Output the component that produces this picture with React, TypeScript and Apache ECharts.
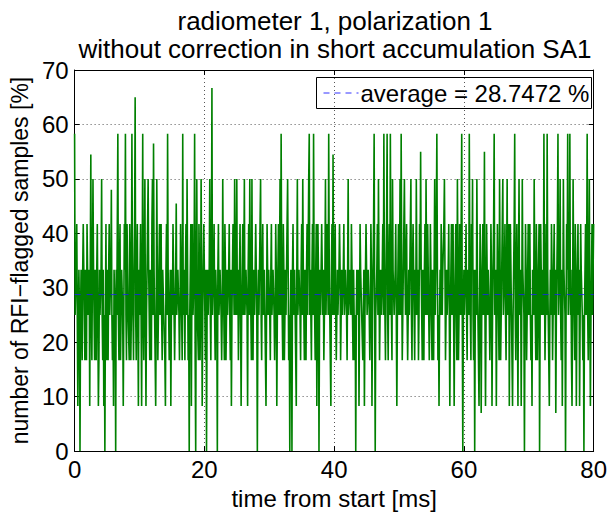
import React, { useEffect, useRef } from "react";
import * as echarts from "echarts";

const titleLines = ["radiometer 1, polarization 1", "without correction in short accumulation SA1"];
const xAxisName = "time from start [ms]";
const yAxisName = "number of RFI\u2212flagged samples [%]";
const averageValue = 28.7472;
const averageLabel = "average = 28.7472 %";
const sampleStepMs = 1 / 12;

// RFI-flagged percentage per sample: 0-10 ms, 10-20 ms, ... 70-80 ms
const seg0 = [
  58.3, 25, 25, 33.3, 41.7, 25, 8.3, 25, 33.3, 25, 0, 25, 33.3, 25, 16.7, 33.3, 41.7, 33.3, 25, 16.7,
  33.3, 25, 16.7, 41.7, 41.7, 25, 25, 33.3, 8.3, 33.3, 54.5, 25, 16.7, 33.3, 50, 33.3, 25, 16.7, 33.3, 25,
  16.7, 33.3, 41.7, 25, 8.3, 16.7, 33.3, 25, 25, 33.3, 50, 25, 16.7, 33.3, 8.3, 25, 0, 25, 41.7, 16.7,
  33.3, 25, 16.7, 33.3, 41.7, 25, 25, 33.3, 48, 25, 16.7, 25, 8.3, 33.3, 33.3, 25, 0, 33.3, 25, 41.7,
  58.3, 25, 16.7, 33.3, 41.7, 16.7, 25, 33.3, 33.3, 25, 8.3, 25, 41.7, 33.3, 58.3, 25, 16.7, 41.7, 33.3, 25,
  25, 16.7, 41.7, 33.3, 16.7, 25, 58.3, 33.3, 25, 16.7, 33.3, 41.7, 65, 25, 16.7, 33.3, 41.7, 25, 8.3, 33.3,
];
const seg1 = [
  25, 33.3, 41.7, 25, 8.3, 33.3, 58.3, 25, 16.7, 33.3, 50, 25, 8.3, 25, 33.3, 41.7, 50, 33.3, 25, 16.7,
  33.3, 25, 16.7, 41.7, 50, 25, 56.5, 33.3, 25, 16.7, 8.3, 25, 50, 33.3, 16.7, 25, 33.3, 41.7, 25, 33.3,
  41.7, 25, 16.7, 33.3, 33.3, 25, 25, 16.7, 8.3, 33.3, 41.7, 25, 58.3, 33.3, 25, 16.7, 16.7, 33.3, 8.3, 25,
  33.3, 25, 41.7, 33.3, 25, 16.7, 16.7, 33.3, 45.5, 25, 25, 33.3, 33.3, 25, 16.7, 25, 41.7, 33.3, 25, 16.7,
  58.3, 25, 33.3, 25, 16.7, 33.3, 41.7, 25, 50, 33.3, 16.7, 25, 0, 25, 33.3, 41.7, 8.3, 33.3, 41.7, 25,
  25, 33.3, 58.3, 16.7, 0, 33.3, 50, 25, 25, 16.7, 41.7, 33.3, 16.7, 25, 50, 33.3, 8.3, 25, 33.3, 41.7,
];
const seg2 = [
  41.7, 25, 16.7, 33.3, 0, 25, 33.3, 25, 25, 33.3, 50, 25, 16.7, 33.3, 66.7, 25, 25, 33.3, 41.7, 25,
  16.7, 33.3, 33.3, 25, 0, 33.3, 41.7, 25, 25, 33.3, 33.3, 25, 16.7, 25, 50, 33.3, 25, 16.7, 41.7, 33.3,
  16.7, 25, 33.3, 25, 25, 33.3, 41.7, 25, 16.7, 33.3, 8.3, 25, 33.3, 41.7, 41.7, 25, 50, 33.3, 25, 33.3,
  50, 25, 33.3, 16.7, 16.7, 33.3, 41.7, 25, 8.3, 25, 33.3, 41.7, 25, 33.3, 50, 25, 25, 33.3, 33.3, 25,
  8.3, 33.3, 41.7, 25, 50, 33.3, 25, 16.7, 50, 25, 16.7, 33.3, 33.3, 25, 25, 41.7, 41.7, 25, 0, 25,
  33.3, 25, 25, 41.7, 50, 25, 16.7, 33.3, 41.7, 25, 25, 33.3, 33.3, 16.7, 8.3, 25, 41.7, 33.3, 25, 33.3,
];
const seg3 = [
  33.3, 25, 16.7, 33.3, 41.7, 25, 25, 33.3, 33.3, 25, 16.7, 25, 41.7, 33.3, 8.3, 25, 33.3, 41.7, 25, 33.3,
  50, 25, 58.3, 33.3, 25, 16.7, 41.7, 33.3, 16.7, 25, 33.3, 25, 25, 41.7, 50, 33.3, 16.7, 25, 0, 25,
  33.3, 25, 0, 33.3, 41.7, 25, 25, 33.3, 33.3, 16.7, 8.3, 33.3, 50, 25, 25, 33.3, 33.3, 25, 16.7, 33.3,
  41.7, 25, 50, 33.3, 25, 16.7, 33.3, 25, 16.7, 33.3, 41.7, 25, 25, 50, 58.3, 25, 33.3, 25, 16.7, 33.3,
  41.7, 25, 58.3, 33.3, 25, 16.7, 33.3, 41.7, 8.3, 25, 41.7, 33.3, 0, 25, 33.3, 25, 25, 41.7, 41.7, 25,
  33.3, 16.7, 25, 33.3, 50, 25, 33.3, 41.7, 41.7, 25, 58.3, 33.3, 25, 16.7, 8.3, 33.3, 41.7, 25, 54.5, 33.3,
];
const seg4 = [
  25, 33.3, 41.7, 25, 16.7, 25, 33.3, 25, 25, 33.3, 41.7, 33.3, 16.7, 25, 33.3, 25, 25, 33.3, 41.7, 25,
  25, 33.3, 33.3, 25, 16.7, 33.3, 50, 25, 25, 33.3, 33.3, 25, 41.7, 33.3, 25, 16.7, 33.3, 25, 16.7, 25,
  0, 25, 33.3, 25, 25, 33.3, 8.3, 25, 41.7, 33.3, 33.3, 25, 25, 16.7, 16.7, 33.3, 8.3, 25, 33.3, 41.7,
  41.7, 25, 25, 33.3, 33.3, 25, 16.7, 25, 41.7, 33.3, 8.3, 25, 33.3, 41.7, 58.3, 25, 0, 25, 25, 33.3,
  41.7, 25, 50, 33.3, 16.7, 25, 33.3, 25, 25, 33.3, 41.7, 25, 58.3, 33.3, 25, 16.7, 33.3, 41.7, 58.3, 25,
  16.7, 33.3, 41.7, 25, 58.3, 33.3, 25, 16.7, 50, 33.3, 33.3, 25, 25, 33.3, 41.7, 25, 8.3, 25, 33.3, 41.7,
];
const seg5 = [
  25, 33.3, 50, 25, 58.3, 33.3, 16.7, 25, 33.3, 41.7, 50, 33.3, 25, 33.3, 41.7, 25, 16.7, 25, 33.3, 25,
  25, 41.7, 50, 25, 16.7, 33.3, 41.7, 33.3, 25, 16.7, 33.3, 25, 50, 33.3, 25, 33.3, 16.7, 25, 41.7, 33.3,
  55, 33.3, 25, 16.7, 33.3, 25, 16.7, 33.3, 41.7, 25, 50, 33.3, 25, 41.7, 33.3, 25, 16.7, 25, 41.7, 33.3,
  25, 16.7, 33.3, 25, 16.7, 33.3, 50, 25, 25, 41.7, 58.3, 33.3, 16.7, 25, 8.3, 25, 33.3, 25, 41.7, 33.3,
  25, 33.3, 33.3, 41.7, 50, 33.3, 16.7, 25, 33.3, 25, 25, 33.3, 41.7, 25, 8.3, 25, 33.3, 41.7, 25, 33.3,
  41.7, 25, 8.3, 25, 33.3, 41.7, 25, 16.7, 50, 33.3, 16.7, 25, 41.7, 33.3, 25, 41.7, 58.3, 25, 0, 25,
];
const seg6 = [
  33.3, 25, 25, 33.3, 41.7, 25, 16.7, 33.3, 33.3, 25, 58.3, 33.3, 25, 16.7, 41.7, 33.3, 50, 25, 16.7, 33.3,
  0, 25, 33.3, 25, 50, 33.3, 25, 16.7, 8.3, 25, 41.7, 33.3, 7, 25, 33.3, 41.7, 25, 33.3, 55, 25,
  8.3, 25, 41.7, 33.3, 25, 33.3, 33.3, 25, 16.7, 25, 41.7, 33.3, 8.3, 25, 33.3, 41.7, 58.3, 25, 25, 33.3,
  8.3, 25, 41.7, 33.3, 25, 16.7, 50, 33.3, 16.7, 25, 33.3, 41.7, 50, 25, 25, 33.3, 41.7, 25, 16.7, 33.3,
  50, 25, 33.3, 41.7, 8.3, 25, 41.7, 33.3, 25, 16.7, 8.3, 25, 33.3, 41.7, 58.3, 25, 16.7, 33.3, 41.7, 25,
  8.3, 33.3, 50, 25, 25, 33.3, 8.3, 25, 50, 33.3, 33.3, 25, 0, 25, 41.7, 33.3, 16.7, 25, 33.3, 41.7,
];
const seg7 = [
  25, 33.3, 41.7, 25, 16.7, 25, 8.3, 33.3, 33.3, 25, 50, 33.3, 25, 16.7, 41.7, 33.3, 16.7, 25, 33.3, 41.7,
  0, 25, 41.7, 33.3, 25, 33.3, 33.3, 25, 58.3, 33.3, 16.7, 25, 41.7, 25, 58.3, 33.3, 25, 16.7, 8.3, 25,
  33.3, 25, 41.7, 33.3, 16.7, 25, 33.3, 41.7, 25, 33.3, 7, 25, 33.3, 41.7, 58.3, 25, 25, 33.3, 50, 25,
  16.7, 33.3, 8.3, 25, 50, 33.3, 33.3, 25, 0, 25, 41.7, 33.3, 58.3, 25, 25, 33.3, 58.3, 25, 33.3, 16.7,
  8.3, 25, 50, 33.3, 25, 16.7, 41.7, 33.3, 8.3, 25, 33.3, 41.7, 25, 33.3, 8.3, 25, 41.7, 33.3, 33.3, 25,
  16.7, 25, 0, 25, 33.3, 41.7, 25, 33.3, 58.3, 25, 16.7, 33.3, 50, 25, 8.3, 25, 33.3, 41.7, 25, 33.3,
  41.7,
];

const FONT = "'Liberation Sans', Arial, Helvetica, sans-serif";

export default function App() {
  const ref = useRef<HTMLDivElement>(null);
  useEffect(() => {
    if (!ref.current) return;
    const chart = echarts.init(ref.current, undefined, { renderer: "svg" });
    const flagged = [...seg0, ...seg1, ...seg2, ...seg3, ...seg4, ...seg5, ...seg6, ...seg7];
    const lineData = flagged.map((v, i) => [i * sampleStepMs, v]);
    const axisLine = { show: true, onZero: false, lineStyle: { color: "#000", width: 1 } };
    const axisTick = { show: true, inside: true, length: 5, lineStyle: { color: "#000", width: 1 } };
    const splitLine = { show: true, lineStyle: { color: "#555", width: 1, type: [1, 3] } };
    const labelStyle = { fontFamily: FONT, fontSize: 24, color: "#000" };
    chart.setOption({
      animation: false,
      backgroundColor: "#fff",
      title: {
        text: titleLines.join("\n"),
        left: 330,
        top: 2,
        textAlign: "center",
        textStyle: { fontFamily: FONT, fontSize: 26, fontWeight: "normal", color: "#000", lineHeight: 28 },
      },
      grid: { left: 67, right: 12, top: 70, bottom: 55, containLabel: false },
      xAxis: [
        {
          type: "value", min: 0, max: 80, interval: 20, position: "bottom",
          axisLine, axisTick, splitLine,
          axisLabel: { ...labelStyle, margin: 6 },
          name: xAxisName, nameLocation: "middle", nameGap: 30,
          nameTextStyle: { fontFamily: FONT, fontSize: 24, color: "#000" },
        },
        {
          type: "value", min: 0, max: 80, interval: 20, position: "top",
          axisLine, axisTick, splitLine: { show: false }, axisLabel: { show: false },
        },
      ],
      yAxis: [
        {
          type: "value", min: 0, max: 70, interval: 10, position: "left",
          axisLine, axisTick, splitLine,
          axisLabel: { ...labelStyle, margin: 6 },
          name: yAxisName, nameLocation: "middle", nameGap: 37,
          nameTextStyle: { fontFamily: FONT, fontSize: 23, color: "#000" },
        },
        {
          type: "value", min: 0, max: 70, interval: 10, position: "right",
          axisLine, axisTick, splitLine: { show: false }, axisLabel: { show: false },
        },
      ],
      series: [
        {
          name: "flagged", type: "line", data: lineData, symbol: "none", showSymbol: false,
          lineStyle: { color: "#008000", width: 1.6 }, itemStyle: { color: "#008000" }, z: 2, silent: true,
        },
        {
          name: averageLabel, type: "line", data: [[0, averageValue], [80, averageValue]], symbol: "none",
          lineStyle: { color: "#1a1aff", width: 1, opacity: 0.8, type: [6, 6] }, itemStyle: { color: "#0000ff" }, z: 3, silent: true,
        },
      ],
      graphic: [
        {
          type: "group", left: 316, top: 77, z: 100,
          children: [
            { type: "rect", shape: { x: 0, y: 0, width: 275, height: 31 }, style: { fill: "#fff", stroke: "#000", lineWidth: 1 } },
            { type: "line", shape: { x1: 7, y1: 15.5, x2: 42, y2: 15.5 }, style: { stroke: "#3333ff", lineWidth: 1, lineDash: [6, 5] } },
            { type: "text", x: 44, y: 16, style: { text: averageLabel, fontFamily: FONT, fontSize: 24, fill: "#000", verticalAlign: "middle", align: "left" } },
          ],
        },
      ],
    });
    return () => chart.dispose();
  }, []);
  return <div ref={ref} style={{ position: "fixed", left: 0, top: 0, width: 610, height: 515 }} />;
}
